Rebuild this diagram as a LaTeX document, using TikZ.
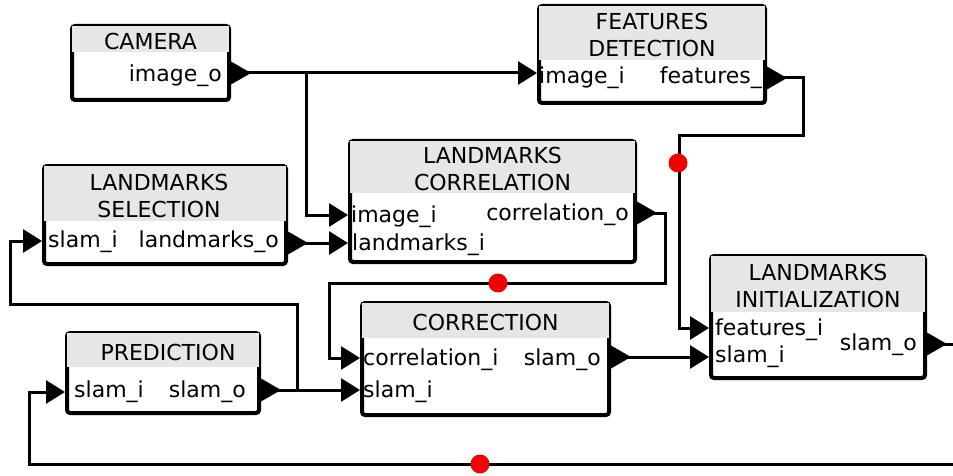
\documentclass[tikz,border=0pt]{standalone}
\usepackage{fontspec}
\setmainfont{DejaVu Sans}
\usetikzlibrary{calc,arrows.meta}
\definecolor{headgray}{HTML}{E6E6E6}
\definecolor{dotred}{HTML}{F20000}

\begin{document}
\begin{tikzpicture}[x=1pt,y=-1pt,
        box/.style={draw,line width=4pt,rounded corners=3pt,inner sep=0pt,anchor=north west},
        head/.style={inner sep=0pt,align=center,font=\fontsize{22}{27}\selectfont},
        port/.style={inner sep=0pt,font=\fontsize{22}{27}\selectfont},
        conn/.style={line width=3pt,-{Triangle[length=19pt,width=23pt]}}]
    \useasboundingbox (0,0) rectangle (953,476);

    % blocks: name/x/y/width/height/header height
    \foreach \n/\bx/\by/\bw/\bh/\hd in
    {cam/70/24/157/74/28,
     feat/537/4/226/97/56,
     sel/42/164/242/98/57,
     corr/348/139/285/121/54,
     pred/65/331/192/80/36,
     cor/360/301/247/112/37,
     init/709/254/214/122/58
    }
    {
        \node[box,minimum width=\bw pt,minimum height=\bh pt] (\n) at (\bx,\by) {};
        \fill[headgray] ([xshift=2pt,yshift=-2pt]\n.north west) rectangle ([xshift=-2pt,yshift=-\hd pt]\n.north east);
        \coordinate (\n-h) at ([yshift=-\hd*0.5pt-3pt]\n.north);
    };

    \node[head] (cam-t) at (cam-h) {CAMERA};
    \node[head] (feat-t) at (feat-h) {FEATURES\\DETECTION};
    \node[head] (sel-t) at ([xshift=-6pt]sel-h) {LANDMARKS\\SELECTION};
    \node[head] (corr-t) at (corr-h) {LANDMARKS\\CORRELATION};
    \node[head] (pred-t) at ([xshift=5pt]pred-h) {PREDICTION};
    \node[head] (cor-t) at (cor-h) {CORRECTION};
    \node[head] (init-t) at (init-h) {LANDMARKS\\INITIALIZATION};

    % ports
    \foreach \p/\n/\s/\d in
    {cam-o/cam/east/49,
     feat-i/feat/west/69, feat-o/feat/east/74,
     sel-i/sel/west/77, sel-o/sel/east/79,
     corr-i1/corr/west/76, corr-i2/corr/west/104, corr-o/corr/east/74,
     pred-i/pred/west/61, pred-o/pred/east/59,
     cor-i1/cor/west/57, cor-i2/cor/west/89, cor-o/cor/east/56,
     init-i1/init/west/74, init-i2/init/west/103, init-o/init/east/90
    }
    {
        \coordinate (\p) at ([yshift=-\d pt]\n.north \s);
    };

    \foreach \p in {cam-o,feat-o,sel-o,corr-o,pred-o,cor-o,init-o}
    {
        \fill (\p) -- ++(0,11.5) -- ++(20,-11.5) -- ++(-20,-11.5) -- cycle;
    };

    \foreach \p/\a/\dx/\dy/\txt in
    {cam-o/east/-9/9/image\_o,
     feat-i/west/2/11/image\_i, feat-o/east/-5/6/features\_,
     sel-i/west/6/6/slam\_i, sel-o/east/-9/4/landmarks\_o,
     corr-i1/west/3/7/image\_i, corr-i2/west/4/7/landmarks\_i, corr-o/east/-8/7/correlation\_o,
     pred-i/west/9/5/slam\_i, pred-o/east/-15/7/slam\_o,
     cor-i1/west/3/7/correlation\_i, cor-i2/west/3/7/slam\_i, cor-o/east/-10/8/slam\_o,
     init-i1/west/6/7/features\_i, init-i2/west/6/5/slam\_i, init-o/east/-10/6/slam\_o
    }
    {
        \node[port,anchor=base \a] at ([xshift=\dx pt,yshift=-\dy pt]\p) {\txt};
    };

    % connections
    \draw[conn] (cam-o) -- (feat-i);
    \draw[conn] (cam-o) ++(75,0) |- (corr-i1);
    \draw[conn] (sel-o) -- (corr-i2);
    \draw[conn] (feat-o) -- ++(36,0) -- ++(0,58) -| ([xshift=-30pt]init-i1) -- (init-i1);
    \draw[conn] (corr-o) -- ++(28,0) -- ++(0,70) -| ([xshift=-31pt]cor-i1) -- (cor-i1);
    \draw[conn] (pred-o) -- (cor-i2);
    \draw[conn] (pred-o) ++(36,0) -- ++(0,-86) -| ([xshift=-32pt]sel-i) -- (sel-i);
    \draw[conn] (cor-o) -- (init-i2);
    \draw[conn] (init-o) -- ++(50,0) -- ++(0,120) -| ([xshift=-36pt]pred-i) -- (pred-i);

    \foreach \p in {(678,163),(498,283),(480,464)}
        \fill[dotred] \p circle (9.5pt);
\end{tikzpicture}
\end{document}
